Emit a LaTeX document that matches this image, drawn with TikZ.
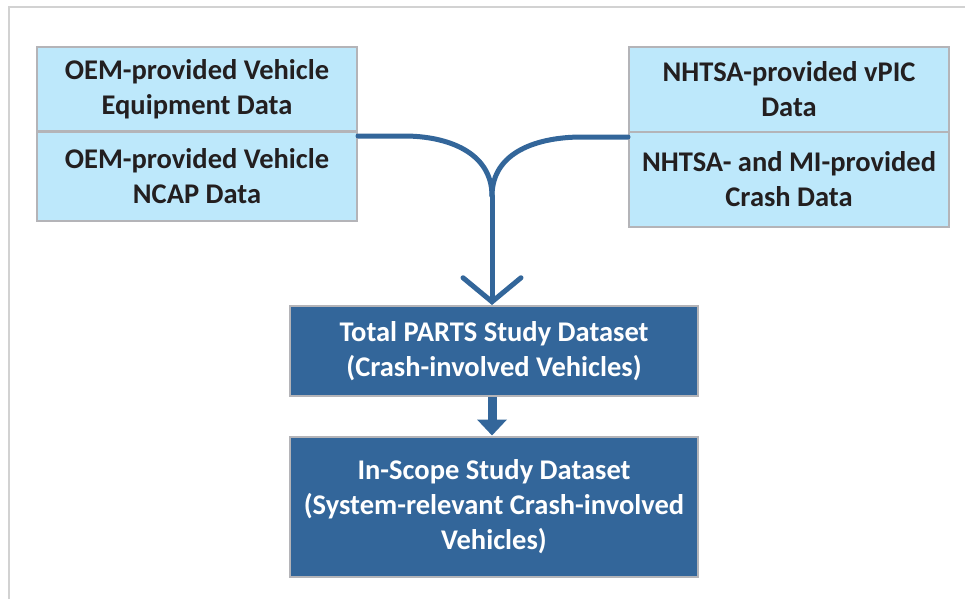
\documentclass[tikz,border=0pt]{standalone}
\usepackage{fontspec}
\setmainfont{Carlito}
\usetikzlibrary{positioning, arrows.meta}
\definecolor{partsblue}{HTML}{33669A}
\definecolor{partslight}{HTML}{BDE8FB}
\definecolor{partsgray}{HTML}{B4B4B8}
\definecolor{partsframe}{HTML}{D2D2D2}
\definecolor{partstext}{HTML}{231F20}

\begin{document}
\begin{tikzpicture}[x=1pt, y=-1pt,
        src/.style={draw=partsgray, line width=2pt, fill=partslight, text=partstext, align=center,
          font=\fontsize{28.5}{35}\selectfont\bfseries, minimum width=320pt, inner sep=0pt},
        dset/.style={src, fill=partsblue, text=white, minimum width=408pt},
        flow/.style={draw=partsblue, line width=5pt, line cap=round}]
      \useasboundingbox (0,0) rectangle (965,599);
      \draw[partsframe, line width=1.5pt] (9,599) -- (9,7) -- (965,7);
      % input data
      \node[src, minimum height=84pt] (oemeq) at (197,89) {OEM-provided Vehicle\\Equipment Data};
      \node[src, minimum height=89pt] (oemncap) at (197,176.5) {OEM-provided Vehicle\\NCAP Data};
      \node[src, minimum height=85pt] (vpic) at (789,89.5) {NHTSA-provided vPIC\\Data};
      \node[src, minimum height=95pt] (crash) at (789,179.5) {NHTSA- and MI-provided\\Crash Data};
      % datasets
      \node[dset, minimum height=90pt] (total) at (494,351) {Total PARTS Study Dataset\\(Crash-involved Vehicles)};
      \node[dset, minimum height=140pt] (inscope) at (494,506.5) {In-Scope Study Dataset\\(System-relevant Crash-involved\\Vehicles)};
      % merging connector
      \coordinate (merge) at (492,196);
      \draw[flow] ([yshift=-4pt]oemeq.south east) -- ++(46,0) to[out=0, in=90, looseness=1.05] (merge);
      \draw[flow] ([yshift=-4pt]vpic.south west) -- ++(-46,0) to[out=180, in=90, looseness=1.05] (merge);
      \draw[flow, -{Straight Barb[length=24pt, width=58pt, line cap=round]}] (merge) -- (merge |- total.north);
      \draw[partsblue, line width=9pt, -{Triangle[length=16pt, width=29pt]}] ([xshift=-2pt]total.south) -- ([xshift=-2pt]inscope.north);
    \end{tikzpicture}
\end{document}
